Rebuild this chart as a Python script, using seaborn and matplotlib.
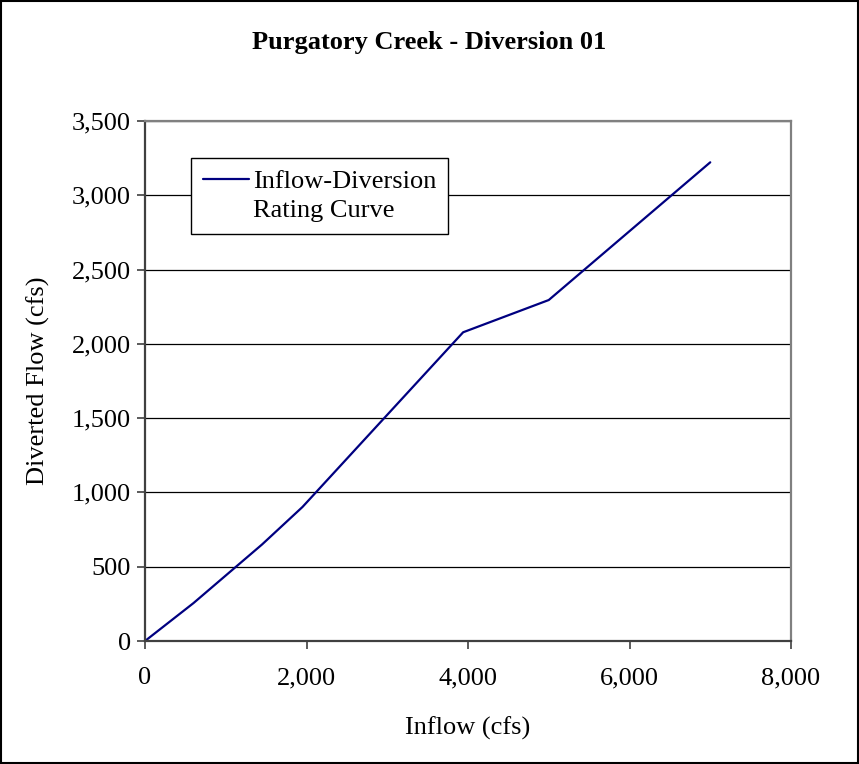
import matplotlib
matplotlib.use("Agg")
import matplotlib.pyplot as plt
import matplotlib.ticker as mticker
from matplotlib.lines import Line2D
import seaborn as sns
import pandas as pd

# Inflow-diversion rating curve for Purgatory Creek, Diversion 01
inflow = [0, 600, 1450, 1950, 3940, 5000, 7000]
diverted = [0, 255, 650, 902, 2078, 2295, 3222]
legend_lines = ["Inflow-Diversion", "Rating Curve"]

x_ticks = [0, 2000, 4000, 6000, 8000]
y_ticks = [0, 500, 1000, 1500, 2000, 2500, 3000, 3500]

df = pd.DataFrame({"Inflow": inflow, "Diverted": diverted})

sns.set_theme(style="white")
plt.rcParams["font.family"] = ["Liberation Serif", "DejaVu Serif"]
plt.rcParams["text.color"] = "black"
plt.rcParams["axes.labelcolor"] = "black"

FS = 19
fig = plt.figure(figsize=(8.59, 7.64), dpi=100)
ax = fig.add_axes([145 / 859, 1 - 641 / 764, 646 / 859, 520 / 764])

sns.lineplot(data=df, x="Inflow", y="Diverted", color="#000080",
             linewidth=1.6, ax=ax, sort=False)

ax.set_xlim(0, 8000)
ax.set_ylim(0, 3500)
ax.set_xticks(x_ticks)
ax.set_yticks(y_ticks)
fmt = mticker.FuncFormatter(lambda v, p: f"{int(v):,}")
ax.xaxis.set_major_formatter(fmt)
ax.yaxis.set_major_formatter(fmt)
ax.tick_params(axis="both", labelsize=FS, labelcolor="black", direction="out",
               length=5.8, width=1.2, color="#404040", left=True, bottom=True)
ax.tick_params(axis="y", pad=4.3)
ax.tick_params(axis="x", pad=13)

ax.yaxis.grid(True, color="black", linewidth=0.9)
ax.set_axisbelow(True)
for name, sp in ax.spines.items():
    sp.set_visible(True)
    sp.set_linewidth(1.6)
    sp.set_color("#404040" if name in ("left", "bottom") else "#808080")

ax.set_xlabel("Inflow (cfs)", fontsize=FS, va="center", color="black")
ax.set_ylabel("Diverted Flow (cfs)", fontsize=FS, va="center", color="black")
ax.xaxis.set_label_coords(0.5, (641 - 728) / 520)
ax.yaxis.set_label_coords((38 - 145) / 646, 0.5)

fig.text(0.5, 1 - 42 / 764, "Purgatory Creek - Diversion 01",
         ha="center", va="center", fontsize=FS, fontweight="bold", color="black")

# legend: curve handle on the first line, wrapped name on the second
handles = [Line2D([], [], color="#000080", linewidth=1.6),
           Line2D([], [], color="none")]
leg = ax.legend(handles, legend_lines, loc="upper left",
                bbox_to_anchor=(46 / 646, (641 - 158) / 520), borderaxespad=0,
                fontsize=FS, frameon=True, fancybox=False, handlelength=1.75,
                borderpad=0.45, labelspacing=0.2, handletextpad=0.15,
                labelcolor="black")
leg.get_frame().set_edgecolor("black")
leg.get_frame().set_linewidth(1.0)
leg.get_frame().set_alpha(1)

# outer chart border
fig.patches.append(plt.Rectangle((0.001, 0.001), 0.998, 0.998, transform=fig.transFigure,
                                 fill=False, edgecolor="black", linewidth=1.5))

fig.savefig("out.png", dpi=100)
